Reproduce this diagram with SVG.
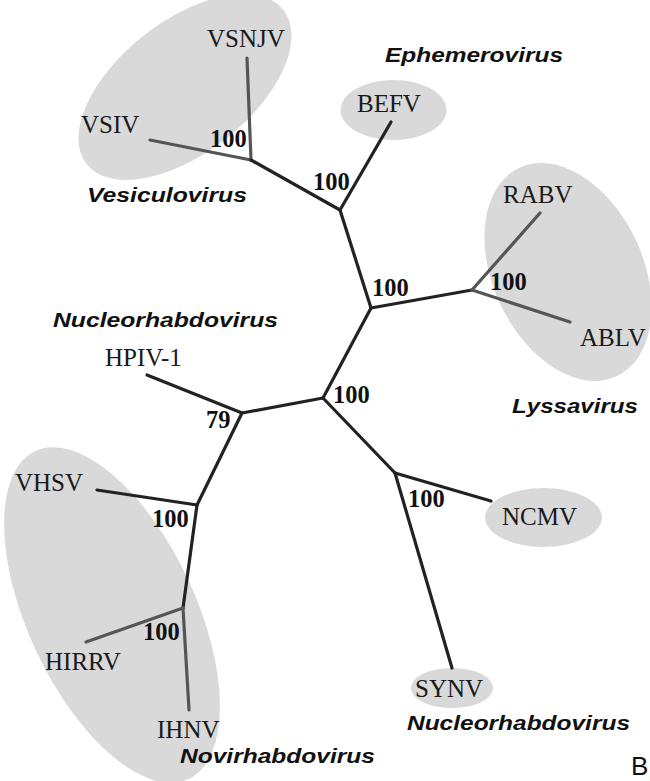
<svg xmlns="http://www.w3.org/2000/svg" width="650" height="781" viewBox="0 0 650 781">
<style>
.bg{fill:#ffffff}
.clade{fill:#d9d9d9;stroke:none}
.br{stroke:#222222;stroke-width:3.2;fill:none;stroke-linecap:round}
.lf{stroke:#555555;stroke-width:3.2;fill:none;stroke-linecap:round}
.tx{font-family:"Liberation Serif","Times New Roman",serif;font-size:25px;fill:#1a1a1a}
.bs{font-family:"Liberation Serif","Times New Roman",serif;font-size:24.5px;font-weight:bold;fill:#111}
.gn{font-family:"Liberation Sans",Arial,sans-serif;font-size:21px;font-weight:bold;font-style:italic;fill:#111}
.pl{font-family:"Liberation Sans",Arial,sans-serif;font-size:26px;fill:#111}
</style>
<rect class="bg" x="0" y="0" width="650" height="781"/>
<g id="clades">
<ellipse class="clade" cx="185" cy="87" rx="125" ry="66" transform="rotate(-38 185 87)"/>
<ellipse class="clade" cx="393.5" cy="110" rx="53" ry="30"/>
<ellipse class="clade" cx="568" cy="272" rx="115" ry="75" transform="rotate(65 568 272)"/>
<ellipse class="clade" cx="543.5" cy="517.5" rx="58.5" ry="29.5"/>
<ellipse class="clade" cx="452" cy="688" rx="41" ry="20"/>
<ellipse class="clade" cx="112" cy="615" rx="181" ry="84" transform="rotate(65 112 615)"/>
</g>
<g id="connectors">
<line class="lf" x1="251" y1="160" x2="247" y2="58"/>
<line class="lf" x1="251" y1="160" x2="150" y2="140"/>
<line class="br" x1="251" y1="160" x2="340" y2="210"/>
<line class="br" x1="340" y1="210" x2="391" y2="122"/>
<line class="br" x1="340" y1="210" x2="371" y2="308"/>
<line class="br" x1="371" y1="308" x2="472" y2="290"/>
<line class="lf" x1="472" y1="290" x2="540" y2="213"/>
<line class="lf" x1="472" y1="290" x2="570" y2="322"/>
<line class="br" x1="371" y1="308" x2="323" y2="398"/>
<line class="br" x1="323" y1="398" x2="242" y2="413"/>
<line class="br" x1="242" y1="413" x2="147" y2="375"/>
<line class="br" x1="242" y1="413" x2="197" y2="505"/>
<line class="br" x1="197" y1="505" x2="97" y2="490"/>
<line class="br" x1="197" y1="505" x2="183" y2="608"/>
<line class="lf" x1="183" y1="608" x2="86" y2="642"/>
<line class="lf" x1="183" y1="608" x2="189" y2="710"/>
<line class="br" x1="323" y1="398" x2="395" y2="473"/>
<line class="br" x1="395" y1="473" x2="491" y2="501"/>
<line class="br" x1="395" y1="473" x2="452" y2="668"/>
</g>
<g id="VSNJV"><text class="tx" x="207" y="47">VSNJV</text></g>
<g id="VSIV"><text class="tx" x="81" y="133">VSIV</text></g>
<g id="BEFV"><text class="tx" x="357" y="112">BEFV</text></g>
<g id="RABV"><text class="tx" x="503" y="203">RABV</text></g>
<g id="ABLV"><text class="tx" x="580" y="346">ABLV</text></g>
<g id="HPIV-1"><text class="tx" x="105" y="366">HPIV-1</text></g>
<g id="VHSV"><text class="tx" x="15" y="491">VHSV</text></g>
<g id="HIRRV"><text class="tx" x="45" y="670">HIRRV</text></g>
<g id="IHNV"><text class="tx" x="157" y="738">IHNV</text></g>
<g id="NCMV"><text class="tx" x="502" y="525">NCMV</text></g>
<g id="SYNV"><text class="tx" x="415" y="697">SYNV</text></g>
<g id="bootstrap">
<text class="bs" x="210" y="147">100</text>
<text class="bs" x="313" y="190">100</text>
<text class="bs" x="372" y="296">100</text>
<text class="bs" x="490" y="290">100</text>
<text class="bs" x="333" y="403">100</text>
<text class="bs" x="408" y="507">100</text>
<text class="bs" x="152" y="527">100</text>
<text class="bs" x="143" y="640">100</text>
<text class="bs" x="206" y="428">79</text>
</g>
<g id="genera">
<text class="gn" x="385" y="62" textLength="178" lengthAdjust="spacingAndGlyphs">Ephemerovirus</text>
<text class="gn" x="87" y="202" textLength="160" lengthAdjust="spacingAndGlyphs">Vesiculovirus</text>
<text class="gn" x="53" y="327" textLength="225" lengthAdjust="spacingAndGlyphs">Nucleorhabdovirus</text>
<text class="gn" x="512" y="413" textLength="126" lengthAdjust="spacingAndGlyphs">Lyssavirus</text>
<text class="gn" x="180" y="763" textLength="195" lengthAdjust="spacingAndGlyphs">Novirhabdovirus</text>
<text class="gn" x="407" y="730" textLength="223" lengthAdjust="spacingAndGlyphs">Nucleorhabdovirus</text>
</g>
<g id="panel-label"><text class="pl" x="631" y="775">B</text></g>
</svg>
